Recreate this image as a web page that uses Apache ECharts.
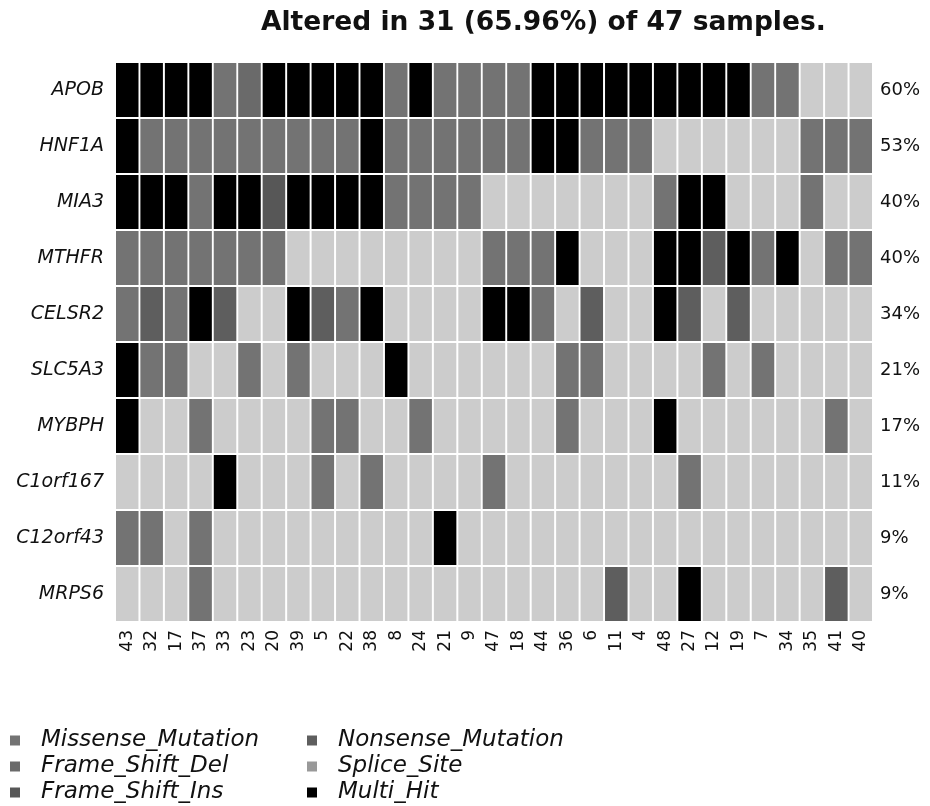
<!DOCTYPE html>
<html><head><meta charset="utf-8">
<script src="https://cdn.jsdelivr.net/npm/echarts@6/dist/echarts.min.js"></script>
<style>html,body{margin:0;padding:0;background:#fff}#c{width:930px;height:806px}</style>
</head><body><div id="c"></div>
<script>
// ---- data ----
const genes = ['APOB','HNF1A','MIA3','MTHFR','CELSR2','SLC5A3','MYBPH','C1orf167','C12orf43','MRPS6'];
const samples = ['43','32','17','37','33','23','20','39','5','22','38','8','24','21','9','47','18','44','36','6','11','4','48','27','12','19','7','34','35','41','40'];
const pctLabels = ['60%','53%','40%','40%','34%','21%','17%','11%','9%','9%'];
// codes: M Missense, N Nonsense, D Frame_Shift_Del, S Splice_Site, I Frame_Shift_Ins, B Multi_Hit, . none
const APOB     = "BBBBMDBBBBBMBMMMMBBBBBBBBBMM...";
const HNF1A    = "BMMMMMMMMMBMMMMMMBBMMM......MMM";
const MIA3     = "BBBMBBIBBBBMMMM.......MBB...M..";
const MTHFR    = "MMMMMMM........MMMB...BBNBMB.MM";
const CELSR2   = "MNMBN..BNMB....BBM.N..BN.N.....";
const SLC5A3   = "BMM..M.M...B......MM....M.M....";
const MYBPH    = "B..M....MM..M.....M...B......M.";
const C1orf167 = "....B...M.M....M.......M.......";
const C12orf43 = "MM.M.........B.................";
const MRPS6    = "...M................N..B.....N.";
const rows = [APOB, HNF1A, MIA3, MTHFR, CELSR2, SLC5A3, MYBPH, C1orf167, C12orf43, MRPS6];
const typeNames  = ['Missense_Mutation','Frame_Shift_Del','Frame_Shift_Ins','Nonsense_Mutation','Splice_Site','Multi_Hit'];
const typeCodes  = ['M','D','I','N','S','B'];
const typeColors = ['#737373','#6a6a6a','#575757','#5e5e5e','#999999','#000000'];

// ---- build ----
const FONT = 'DejaVu Sans';
function renderCell(params, api) {
  const c = api.coord([api.value(0), api.value(1)]);
  const s = api.size([1, 1]);
  return {
    type: 'rect',
    shape: { x: c[0] - s[0] / 2 + 1, y: c[1] - s[1] / 2 + 1, width: s[0] - 2, height: s[1] - 2 },
    style: { fill: api.visual('color') }
  };
}
const bgData = [];
rows.forEach((r, gi) => { for (let si = 0; si < samples.length; si++) bgData.push([si, gi]); });
const series = [{
  type: 'custom', name: 'bg', renderItem: renderCell, data: bgData,
  itemStyle: { color: '#cccccc' }, silent: true, encode: { x: 0, y: 1 }
}];
typeCodes.forEach((code, ti) => {
  const d = [];
  rows.forEach((r, gi) => { for (let si = 0; si < r.length; si++) if (r[si] === code) d.push([si, gi]); });
  series.push({
    type: 'custom', name: typeNames[ti], renderItem: renderCell, data: d,
    itemStyle: { color: typeColors[ti] }, silent: true, encode: { x: 0, y: 1 }
  });
});

const legendCommon = {
  orient: 'vertical', top: 729, height: 80, padding: 0,
  itemWidth: 10, itemHeight: 10, itemGap: 3, icon: 'rect',
  selectedMode: false,
  textStyle: { fontFamily: FONT, fontStyle: 'italic', fontSize: 23, color: '#111', padding: [0, 0, 0, 16] }
};

const chart = echarts.init(document.getElementById('c'));
chart.setOption({
  animation: false,
  backgroundColor: '#fff',
  title: {
    text: 'Altered in 31 (65.96%) of 47 samples.',
    left: 256, top: 5,
    textStyle: { fontFamily: FONT, fontWeight: 'bold', fontSize: 26.5, color: '#111' }
  },
  legend: [
    Object.assign({}, legendCommon, { left: 10, data: typeNames.slice(0, 3) }),
    Object.assign({}, legendCommon, { left: 307, data: typeNames.slice(3, 6) })
  ],
  grid: { left: 115, right: 57, top: 62, bottom: 184 },
  xAxis: {
    type: 'category', data: samples, position: 'bottom',
    axisLine: { show: false }, axisTick: { show: false }, splitLine: { show: false },
    axisLabel: { rotate: 90, interval: 0, margin: 8, fontFamily: FONT, fontSize: 17, color: '#111' }
  },
  yAxis: [{
    type: 'category', data: genes, inverse: true, position: 'left',
    axisLine: { show: false }, axisTick: { show: false }, splitLine: { show: false },
    axisLabel: { interval: 0, margin: 11, fontFamily: FONT, fontStyle: 'italic', fontSize: 19, color: '#111' }
  }, {
    type: 'category', data: pctLabels, inverse: true, position: 'right',
    axisLine: { show: false }, axisTick: { show: false }, splitLine: { show: false },
    axisLabel: { interval: 0, margin: 7, fontFamily: FONT, fontSize: 18, color: '#111' }
  }],
  series: series
});
</script></body></html>
